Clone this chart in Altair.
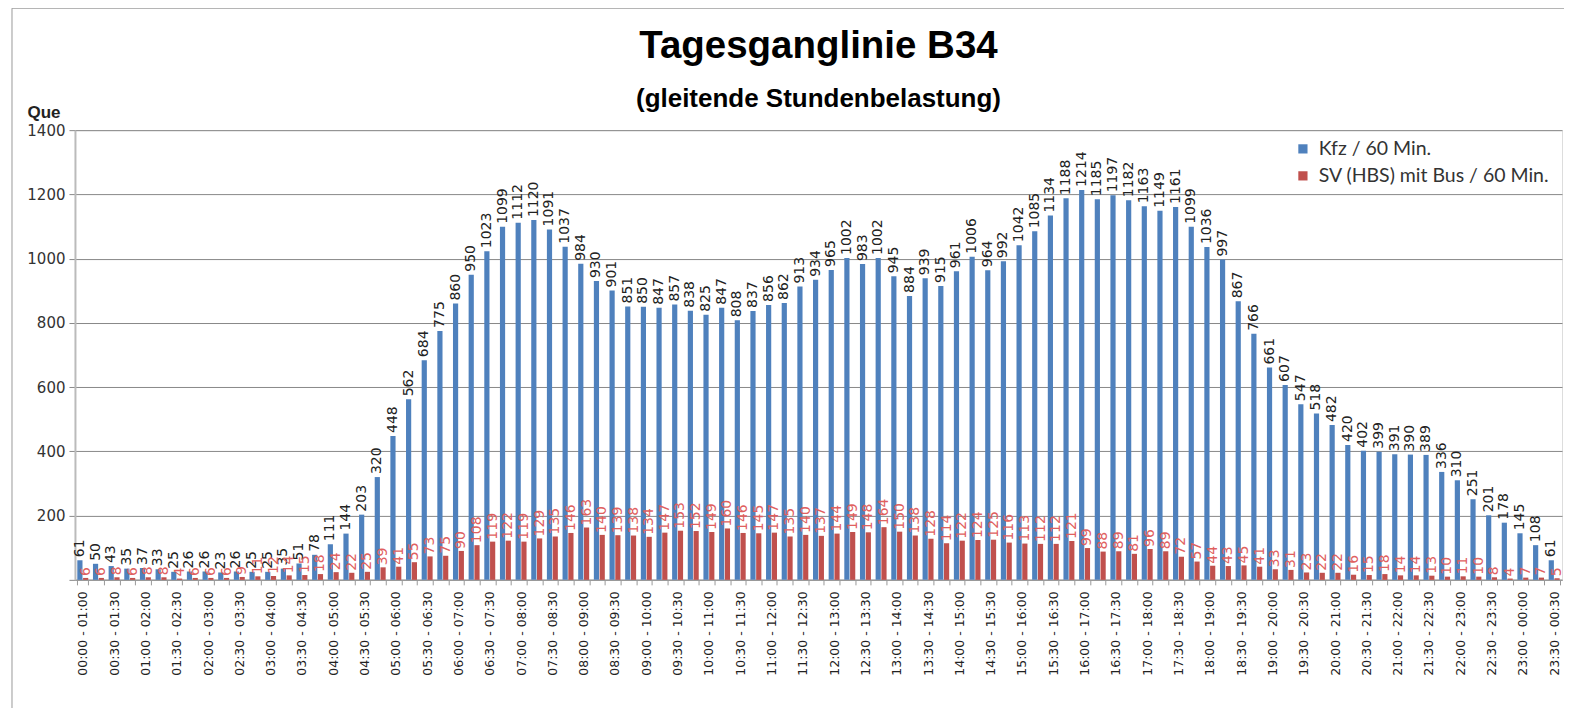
import altair as alt
import pandas as pd

# Kfz / 60 Min. (sliding hourly volume, 15-min steps)
kfz = [61, 50, 43, 35, 37, 33, 25, 26, 26, 23, 26, 25, 25, 35, 51, 78, 111, 144, 203, 320,
       448, 562, 684, 775, 860, 950, 1023, 1099, 1112, 1120, 1091, 1037, 984, 930, 901, 851,
       850, 847, 857, 838, 825, 847, 808, 837, 856, 862, 913, 934, 965, 1002, 983, 1002, 945,
       884, 939, 915, 961, 1006, 964, 992, 1042, 1085, 1134, 1188, 1214, 1185, 1197, 1182,
       1163, 1149, 1161, 1099, 1036, 997, 867, 766, 661, 607, 547, 518, 482, 420, 402, 399,
       391, 390, 389, 336, 310, 251, 201, 178, 145, 108, 61]

# SV (HBS) mit Bus / 60 Min.
sv = [6, 6, 8, 6, 8, 8, 4, 6, 6, 6, 9, 11, 12, 14, 15, 18, 24, 22, 25, 39,
      41, 55, 73, 75, 90, 108, 119, 122, 119, 129, 135, 146, 163, 140, 139, 138,
      134, 147, 153, 152, 149, 160, 146, 145, 147, 135, 140, 137, 144, 149, 148, 164, 150,
      138, 128, 114, 122, 124, 125, 116, 113, 112, 112, 121, 99, 88, 89, 81,
      96, 89, 72, 57, 44, 43, 45, 41, 33, 31, 23, 22, 22, 16, 15, 18,
      14, 14, 13, 10, 11, 10, 8, 4, 7, 7, 5]

windows = []
for i in range(len(kfz)):
    s = i * 15
    e = s + 60
    windows.append(f"{(s // 60) % 24:02d}:{s % 60:02d} - {(e // 60) % 24:02d}:{e % 60:02d}")

series = ["Kfz / 60 Min.", "SV (HBS) mit Bus / 60 Min."]
colors = ["#4F81BD", "#C0504D"]

rows = []
for w, k, s in zip(windows, kfz, sv):
    rows.append({"Zeit": w, "Reihe": series[0], "Wert": k})
    rows.append({"Zeit": w, "Reihe": series[1], "Wert": s})
df = pd.DataFrame(rows)

x_enc = alt.X(
    "Zeit:N", sort=windows,
    scale=alt.Scale(paddingInner=0.3, paddingOuter=0.15),
    axis=alt.Axis(
        title=None, labelAngle=-90, labelFont="DejaVu Sans", labelFontSize=12.5,
        labelColor="#222222", labelPadding=6,
        labelExpr="(substring(datum.label,3,5)=='00' || substring(datum.label,3,5)=='30') ? datum.label : ''",
        tickBand="extent", tickSize=5, tickColor="#999999", domainColor="#999999",
        domainWidth=1.5, labelOverlap=False, labelBound=False,
    ),
)
xoff = alt.XOffset("Reihe:N", sort=series, scale=alt.Scale(paddingInner=0.1))
y_enc = alt.Y(
    "Wert:Q",
    scale=alt.Scale(domain=[0, 1400], nice=False),
    axis=alt.Axis(
        values=[0, 200, 400, 600, 800, 1000, 1200, 1400], format="d",
        labelExpr="datum.value == 0 ? '' : datum.label",
        labelFont="DejaVu Sans", labelFontSize=15, labelColor="#333333",
        labelPadding=4, tickSize=6, tickColor="#888888",
        gridColor="#888888", gridWidth=1, domainColor="#BBBBBB", domainWidth=2,
        title="Que", titleAngle=0, titleAlign="left", titleBaseline="bottom",
        titleX=-48, titleY=-9, titleFont="Liberation Sans", titleFontSize=17,
        titleFontWeight="bold", titleColor="#222222",
    ),
)

base = alt.Chart(df)

bars = base.mark_bar().encode(
    x=x_enc, xOffset=xoff, y=y_enc,
    color=alt.Color(
        "Reihe:N", sort=series,
        scale=alt.Scale(domain=series, range=colors),
        legend=alt.Legend(
            title=None, orient="none", legendX=1219, legendY=9,
            labelFont="Lato", labelFontSize=19.5, labelColor="#333333",
            symbolType="square", symbolSize=85, symbolStrokeWidth=0,
            rowPadding=6, labelLimit=400, labelOffset=6,
        ),
    ),
)

blue_text = base.transform_filter(alt.datum.Reihe == series[0]).mark_text(
    angle=270, align="left", baseline="middle", dx=3,
    font="DejaVu Sans", fontSize=14, color="#222222",
).encode(x=x_enc, xOffset=xoff, y=y_enc, text="Wert:Q")

red_text = base.transform_filter(alt.datum.Reihe == series[1]).mark_text(
    angle=270, align="left", baseline="middle", dx=2,
    font="DejaVu Sans", fontSize=14, color="#E06060",
).encode(x=x_enc, xOffset=xoff, y=y_enc, text="Wert:Q")

# outer chart frame (left edge and top edge of the original chart box)
frame_df = pd.DataFrame({"k": [0]})
frame_left = alt.Chart(frame_df).mark_rule(color="#999999", strokeWidth=1).encode(
    x=alt.value(-63), y=alt.value(-122), y2=alt.value(580)
)
frame_top = alt.Chart(frame_df).mark_rule(color="#999999", strokeWidth=1).encode(
    x=alt.value(-63), x2=alt.value(1490), y=alt.value(-122)
)

chart = alt.layer(bars, blue_text, red_text, frame_left, frame_top).properties(
    width=1488, height=450,
    autosize=alt.AutoSizeParams(type="none"),
    padding={"left": 67, "top": 122, "right": 2, "bottom": 128},
    title=alt.TitleParams(
        "Tagesganglinie B34",
        subtitle="(gleitende Stundenbelastung)",
        font="Liberation Sans", fontSize=38.5, fontWeight="bold", color="#000000",
        subtitleFont="Liberation Sans", subtitleFontSize=26,
        subtitleFontWeight="bold", subtitleColor="#000000",
        anchor="middle", offset=-105, subtitlePadding=19,
    ),
).configure_view(stroke=None).configure(background="white")

chart.save("out.html", embed_options={"renderer": "svg", "actions": False})
